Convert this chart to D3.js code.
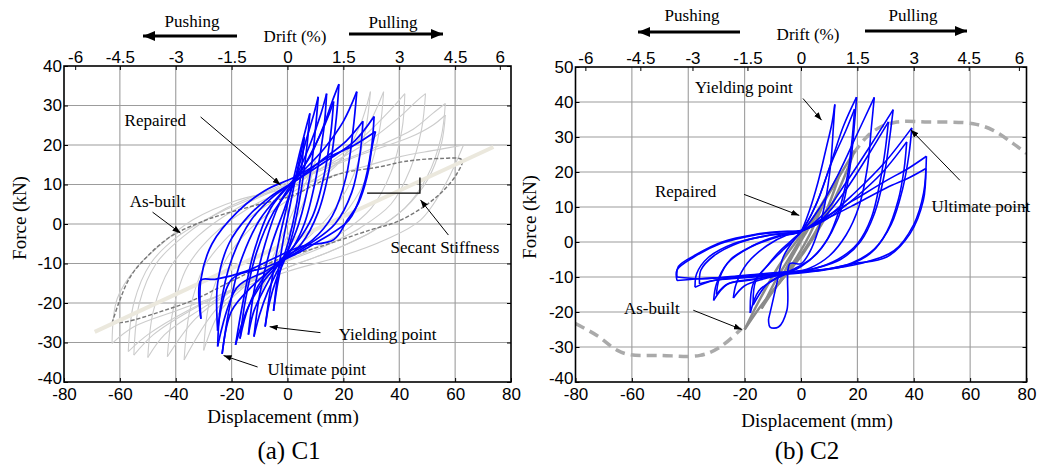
<!DOCTYPE html>
<html><head><meta charset="utf-8">
<script src="https://cdn.jsdelivr.net/npm/d3@7"></script>
<style>body{margin:0;background:#fff}svg{display:block}</style>
</head><body>
<svg id="chart" width="1048" height="466"></svg>
<script>
// ---------------- DATA ----------------
const dispTicks = [-80, -60, -40, -20, 0, 20, 40, 60, 80];
const driftTickLabels = ["-6", "-4.5", "-3", "-1.5", "0", "1.5", "3", "4.5", "6"];
const c1DriftTickDisp = [-76, -60, -40, -20, 0, 20, 40, 60, 76];
const c2DriftTickDisp = [-76.5, -57, -38.5, -19, 0, 20, 40, 59.5, 77.3];
const c1ForceTicks = [-40, -30, -20, -10, 0, 10, 20, 30, 40];
const c2ForceTicks = [-40, -30, -20, -10, 0, 10, 20, 30, 40, 50];

// C1 as-built cycles (light grey): each loop = upper branch (neg peak -> pos peak) + lower branch (pos peak -> neg peak)
const c1AsBuiltLoops = [
  {up: [[-10,-18],[-5,-8],[0,0],[5,8],[10,16]], down: [[10,16],[6,6],[0,-3],[-5,-10],[-10,-18]]},
  {up: [[-30,-32],[-28,-20],[-22,-9],[-13,-1],[-2,5],[9,10],[19,16],[26,25],[29.7,33.5]],
   down: [[29.7,33.5],[28,24],[24,13],[17,4],[8,-3],[-3,-9],[-14,-15],[-24,-22],[-30,-32]]},
  {up: [[-37,-34.4],[-35,-22],[-30,-11],[-21,-3],[-9,4],[4,9],[17,15],[28,24],[34.4,33.5]],
   down: [[34.4,33.5],[33,24],[29,13],[22,4],[12,-3],[0,-8],[-13,-14],[-26,-22],[-37,-34.4]]},
  {up: [[-43,-33.6],[-41,-22],[-36,-11],[-27,-3],[-14,4],[0,9],[14,15],[27,22],[37,29],[42,33]],
   down: [[42,33],[41,24],[37,13],[30,4],[20,-2],[7,-7],[-6,-11],[-20,-17],[-33,-24],[-43,-33.6]]},
  {up: [[-50,-33.8],[-48,-22],[-42,-11],[-32,-3],[-18,4],[-3,9],[12,14],[27,20],[40,27],[46,31],[49.4,33]],
   down: [[49.4,33],[48,24],[44,14],[37,5],[26,-1],[12,-6],[-2,-10],[-18,-16],[-32,-22],[-44,-28],[-50,-33.8]]},
  {up: [[-55,-33.2],[-53,-20],[-47,-10],[-37,-3],[-22,4],[-5,9],[12,14],[30,19],[45,24],[52,28],[56.5,30.5]],
   down: [[56.5,30.5],[55,22],[50,12],[42,4],[30,-2],[15,-7],[0,-11],[-18,-16],[-35,-22],[-48,-28],[-55,-33.2]]},
  {up: [[-57,-32.3],[-55,-20],[-49,-10],[-39,-3],[-24,3],[-7,8],[10,13],[28,18],[44,22],[52,25],[56.5,27.6]],
   down: [[56.5,27.6],[55,20],[50,11],[42,4],[30,-2],[15,-7],[0,-11],[-18,-16],[-36,-22],[-50,-28],[-57,-32.3]]},
  {up: [[-62.8,-30.2],[-61,-19],[-54,-11],[-45,-5],[-34,1],[-18,6],[0,9],[20,13],[40,17],[53,18.7],[63,20]],
   down: [[63,20],[56,9.4],[47.6,1],[35,-4],[20,-8],[0,-12],[-20,-17],[-40,-22],[-55,-26],[-62.8,-30.2]]}
];
// C1 as-built envelope loop (dark grey dashed)
const c1AsBuiltDashed = [[-62.8,-25.1],[-60.4,-20],[-56.2,-13.3],[-49.6,-7.8],[-41.9,-3.2],[-31,0.5],[-22.8,2.5],[-10,5],[1,7],
  [17.8,12.5],[33.3,14.5],[41.6,15.8],[54.8,16.6],[62.5,16.2],[60.7,12.8],[56,8.6],[48.8,4.4],[39.3,0.6],[29.7,-1.5],
  [11.8,-5.7],[-3.7,-9.1],[-20.4,-14.6],[-33.5,-19.2],[-45.5,-22.2],[-57.4,-24.7],[-62.8,-25.1]];
// C1 secant stiffness line
const c1Secant = [[-69,-27.3],[73.7,19.5]];
// C1 repaired cycles (blue)
const c1RepairedLoops = [
  {up: [[-5,-22],[-3.5,-13],[-1.5,-4],[1,5],[3,12],[6,22]], down: [[6,22],[5,14],[3,4],[0.5,-4],[-2,-10],[-3.5,-15],[-5,-22]]},
  {up: [[-8,-26],[-6,-16],[-3,-4],[1,8],[4,17],[6.5,24],[8,28]], down: [[8,28],[7,20],[5,9],[2,-2],[-1,-9],[-4,-14],[-6.5,-20],[-8,-26]]},
  {up: [[-12,-28.5],[-10,-18],[-6,-6],[-1,4],[3,12],[7,22],[9.5,28],[11,32.2]],
   down: [[11,32.2],[10,24],[8,12],[4,0],[0,-7],[-3,-11],[-7,-17],[-10,-23],[-12,-28.5]]},
  {up: [[-14,-28],[-12,-17],[-8,-5],[-3,5],[3,12],[8,20],[12,28],[14,33]],
   down: [[14,33],[13,24],[10,11],[6,0],[1,-7],[-3,-10],[-8,-16],[-12,-22],[-14,-28]]},
  {up: [[-17,-29],[-15,-19],[-11,-7],[-5,3],[2,10],[7,16],[12,23],[15,28],[16.5,31]],
   down: [[16.5,31],[15.5,23],[13,12],[9,2],[3,-5],[-3,-9.5],[-9,-14],[-14,-21],[-17,-29]]},
  {up: [[-18.6,-30.6],[-16,-20],[-12,-7],[-6,4],[2,11],[8,17],[13,25],[16,31],[18.4,35.4]],
   down: [[18.4,35.4],[17.5,27],[15,14],[11,3],[5,-5],[-2,-9.5],[-8,-14],[-14,-21],[-18.6,-30.6]]},
  {up: [[-23.4,-32.9],[-21,-22],[-17,-10],[-10,1],[-2,8],[5,13],[13,19],[20,26],[24.8,33.5]],
   down: [[24.8,33.5],[23.5,24],[21,12],[16,2],[9,-4],[0,-8],[-5,-11],[-13,-16],[-20,-22],[-23.4,-32.9]]},
  {up: [[-25,-31],[-24,-21],[-20,-9],[-13,1],[-5,7],[3,11],[12,16],[21,21],[27,26]],
   down: [[27,26],[26,18],[23,8],[17,0],[8,-5],[-1,-9],[-8,-12],[-18,-16],[-25,-31]]},
  {up: [[-25,-27],[-25,-15],[-21,-5],[-14,2],[-6,7],[3,11],[14,16],[24,21],[31,27.2]],
   down: [[31,27.2],[30,19],[27,9],[22,1],[12,-4],[2,-8],[-8,-11],[-20,-14],[-25,-27]]},
  {up: [[-31,-24],[-31,-14],[-27,-5],[-18,3],[-8,8.5],[3,12],[15,17],[24,20],[31.5,23.4]],
   down: [[31.5,23.4],[30.3,19.6],[28.5,12],[25.4,5.3],[21.4,1],[16.5,-4],[4.7,-5.7],[-3.7,-8.3],[-15,-12],[-26,-14],[-31,-14.2],[-31,-24]]}
];

// C2 as-built envelope (thick grey dashed), negative and positive parts
const c2EnvelopeNeg = [[-80,-23.3],[-72.4,-26.7],[-65.3,-30.9],[-60.6,-32.2],[-50,-32.4],[-35.8,-32.4],[-28.7,-30],[-21,-24.7]];
const c2EnvelopePos = [[18.6,25.3],[23.3,30],[28,32.8],[34,34.3],[45,34.3],[61.1,33.8],[68.2,31.9],[75.3,28.1],[80,25.3]];
// C2 as-built cycles (dark grey solid)
const c2AsBuiltLoops = [
  {up: [[-20,-25],[-15,-17],[-8,-7],[0,2],[7,10],[13,18],[19,26]], down: [[19,26],[14,16],[8,6],[1,-3],[-7,-11],[-14,-18],[-20,-25]]},
  {up: [[-14,-19],[-9,-11],[-3,-3],[3,5],[9,13],[14,20]], down: [[14,20],[9,9],[3,0],[-3,-7],[-9,-13],[-14,-19]]},
  {up: [[-8,-12],[-3,-4],[2,3],[8,11]], down: [[8,11],[3,2],[-2,-5],[-8,-12]]}
];
// C2 repaired cycles (blue)
const c2RepairedLoops = [
  {up: [[-11.5,-22],[-10.5,-18.6],[-8.6,-11.9],[-6.3,-4.3],[-3,0],[0,3],[3,9],[6,17],[9,27],[11,34],[12,39.3]],
   down: [[12,39.3],[11.5,33],[10.5,22],[8.5,11],[6,3],[3,-3],[0,-6.2],[-3.9,-6.2],[-5,-19.5],[-8,-24.3],[-11,-24.3],[-11.5,-22]]},
  {up: [[-18,-20.3],[-17,-12],[-12.2,-7],[-8,-3],[-4,0],[0,3],[5,10],[10,21],[15,33],[19.7,41.4]],
   down: [[19.7,41.4],[19,34],[17.5,22],[15,11],[11,3],[6,-3],[0,-7],[-5,-9],[-10,-11],[-15,-14],[-18,-20.3]]},
  {up: [[-17,-18],[-16,-11],[-11,-6],[-6,-2],[-2,1],[1,4],[6,12],[11,23],[16,32],[19,38]],
   down: [[19,38],[18.2,30],[16.5,19],[13.5,9],[9.5,1],[4,-4.5],[-2,-7.5],[-7,-9.5],[-12,-12],[-17,-18]]},
  {up: [[-24,-16],[-23,-12],[-19,-6],[-12,-1],[-5,2],[0,3],[6,9],[13,19],[20,31],[26,41.3]],
   down: [[26,41.3],[25,33],[23.5,21],[20.5,10],[16,2],[10,-4],[3,-7.5],[-5,-9],[-13,-10.5],[-20,-12.5],[-24,-16]]},
  {up: [[-31,-16.7],[-30,-12],[-26,-6],[-18,-1.5],[-8,1.5],[0,3],[8,8],[16,17],[25,28],[32.7,37.8]],
   down: [[32.7,37.8],[31.5,30],[29.5,19],[26,8],[21,0],[14,-5],[5,-7.5],[-6,-9],[-16,-10.5],[-26,-12],[-31,-16.7]]},
  {up: [[-30,-15],[-29,-10.5],[-25,-5],[-17,-1],[-8,1.8],[0,3],[8,7],[16,15],[24,25],[31,34.3]],
   down: [[31,34.3],[30,27],[28,17],[25,7],[20,-0.5],[13,-5],[4,-7.8],[-7,-9.3],[-17,-10.8],[-26,-12],[-30,-15]]},
  {up: [[-37.6,-12.9],[-37,-9],[-33,-4.5],[-24,-0.5],[-12,1.8],[0,3.2],[9,7],[19,14],[30,23],[39.3,32.6]],
   down: [[39.3,32.6],[38.3,25],[36,15],[32,5],[26,-2],[18,-6],[7,-8],[-6,-9],[-20,-10],[-31,-11],[-37.6,-12.9]]},
  {up: [[-36,-12],[-35.5,-8],[-31,-4],[-22,-0.2],[-11,2],[0,3.2],[9,6.5],[19,12.5],[29,20],[37.5,28.6]],
   down: [[37.5,28.6],[36.6,21],[34.5,12],[30.5,3],[25,-3],[17,-6.5],[6,-8.3],[-7,-9.3],[-21,-10.3],[-31,-11],[-36,-12]]},
  {up: [[-44,-11],[-44,-8],[-38,-4.3],[-28.7,-0.5],[-17,1.9],[-7.4,2.9],[0,3.3],[6.7,6.2],[18.6,11.9],[30.4,17.6],[38,21],[44.5,24.5]],
   down: [[44.5,24.5],[43.5,14],[40,5],[33,-2.5],[24,-5.5],[12,-7.5],[0,-8.3],[-12,-9.2],[-25,-10],[-36,-10.5],[-44,-11]]},
  {up: [[-44,-10],[-43.5,-7],[-37,-3.5],[-28,0],[-16,2.2],[-7,3],[0,3.3],[7,5.8],[18.6,10.5],[30.4,15.5],[38.7,18.5],[44.3,21]],
   down: [[44.3,21],[43.4,11.9],[38.7,2.4],[30.4,-4.3],[18.6,-6.2],[6.7,-8.1],[-5,-8.5],[-20,-9.5],[-35,-10.5],[-44,-10]]}
];

// ---------------- DRAWING ----------------
const svg = d3.select("#chart");
const defs = svg.append("defs");
defs.append("marker").attr("id", "ahThin").attr("viewBox", "0 0 8 6")
  .attr("refX", 8).attr("refY", 3).attr("markerWidth", 8).attr("markerHeight", 6)
  .attr("markerUnits", "userSpaceOnUse").attr("orient", "auto")
  .append("path").attr("d", "M0,0L8,3L0,6Z").attr("fill", "#000");
defs.append("marker").attr("id", "ahThick").attr("viewBox", "0 0 12 10")
  .attr("refX", 12).attr("refY", 5).attr("markerWidth", 12).attr("markerHeight", 10)
  .attr("markerUnits", "userSpaceOnUse").attr("orient", "auto")
  .append("path").attr("d", "M0,0L12,5L0,10Z").attr("fill", "#000");

const SANS = "'Liberation Sans', Arial, sans-serif";
const SERIF = "'Liberation Serif', 'Times New Roman', serif";

function makePanel(cfg) {
  const x = d3.scaleLinear().domain([-80, 80]).range([cfg.left, cfg.right]);
  const y = d3.scaleLinear().domain([cfg.forceTicks[0], cfg.forceTicks[cfg.forceTicks.length - 1]]).range([cfg.bottom, cfg.top]);
  const g = svg.append("g");
  const clipId = "clip" + cfg.id;
  defs.append("clipPath").attr("id", clipId).append("rect")
    .attr("x", cfg.left).attr("y", cfg.top).attr("width", cfg.right - cfg.left).attr("height", cfg.bottom - cfg.top);

  // grid
  g.append("g").selectAll("line").data(dispTicks.slice(1, -1)).join("line")
    .attr("x1", d => x(d)).attr("x2", d => x(d)).attr("y1", cfg.top).attr("y2", cfg.bottom)
    .attr("stroke", "#9c9c9c").attr("stroke-width", 1.1);
  g.append("g").selectAll("line").data(cfg.forceTicks.slice(1, -1)).join("line")
    .attr("y1", d => y(d)).attr("y2", d => y(d)).attr("x1", cfg.left).attr("x2", cfg.right)
    .attr("stroke", "#9c9c9c").attr("stroke-width", 1.1);

  const plot = g.append("g").attr("clip-path", `url(#${clipId})`);
  const curve = d3.line().x(d => x(d[0])).y(d => y(d[1])).curve(d3.curveCatmullRom.alpha(0.5));
  const straight = d3.line().x(d => x(d[0])).y(d => y(d[1]));

  function drawLoops(loops, color, width) {
    const branches = [];
    loops.forEach(l => { branches.push(l.up); branches.push(l.down); });
    plot.append("g").selectAll("path").data(branches).join("path")
      .attr("d", curve).attr("fill", "none").attr("stroke", color).attr("stroke-width", width)
      .attr("stroke-linejoin", "round");
  }
  return {x, y, g, plot, curve, straight, drawLoops, cfg};
}

function drawAxes(p, driftDisp) {
  const {x, y, g, cfg} = p;
  const fmt = d => String(d);
  const bottom = g.append("g").attr("transform", `translate(0,${cfg.bottom})`)
    .call(d3.axisBottom(x).tickValues(dispTicks).tickFormat(fmt).tickSize(-4).tickPadding(6));
  const left = g.append("g").attr("transform", `translate(${cfg.left},0)`)
    .call(d3.axisLeft(y).tickValues(cfg.forceTicks).tickFormat(fmt).tickSize(-4).tickPadding(2));
  const top = g.append("g").attr("transform", `translate(0,${cfg.top})`)
    .call(d3.axisTop(x).tickValues(driftDisp).tickFormat((d, i) => driftTickLabels[i]).tickSize(-4).tickPadding(3));
  const right = g.append("g").attr("transform", `translate(${cfg.right},0)`)
    .call(d3.axisRight(y).tickValues(cfg.forceTicks).tickFormat("").tickSize(-4));
  [bottom, left, top, right].forEach(a => {
    a.select(".domain").remove();
    a.selectAll("line").attr("stroke", "#000").attr("stroke-width", 1);
    a.selectAll("text").attr("font-family", SANS).attr("font-size", 17).attr("fill", "#000");
  });
  // lowest force label sits just above the bottom displacement labels
  left.selectAll(".tick").filter(d => d === cfg.forceTicks[0]).select("text").attr("dy", "0.1em");
  g.append("rect").attr("x", cfg.left).attr("y", cfg.top).attr("width", cfg.right - cfg.left)
    .attr("height", cfg.bottom - cfg.top).attr("fill", "none").attr("stroke", "#000").attr("stroke-width", 1.6);
}

function label(sel, txt, px, py, size, anchor) {
  return sel.append("text").attr("x", px).attr("y", py).text(txt)
    .attr("font-family", SERIF).attr("font-size", size).attr("fill", "#000")
    .attr("text-anchor", anchor || "start");
}
function arrow(sel, x1, y1, x2, y2, thick) {
  sel.append("line").attr("x1", x1).attr("y1", y1).attr("x2", x2).attr("y2", y2)
    .attr("stroke", "#000").attr("stroke-width", thick ? 3 : 1)
    .attr("marker-end", thick ? "url(#ahThick)" : "url(#ahThin)");
}

// ---- Panel (a) C1 ----
const p1 = makePanel({id: 1, left: 64, right: 511, top: 66, bottom: 382, forceTicks: c1ForceTicks});
p1.drawLoops(c1AsBuiltLoops, "#cccccc", 1.1);
p1.plot.append("path").datum(c1AsBuiltDashed).attr("d", p1.curve).attr("fill", "none")
  .attr("stroke", "#777777").attr("stroke-width", 1.4).attr("stroke-dasharray", "4,2");
p1.plot.append("path").datum(c1Secant).attr("d", p1.straight).attr("fill", "none")
  .attr("stroke", "#ebe8dd").attr("stroke-width", 4);
p1.drawLoops(c1RepairedLoops, "#0000ff", 1.7);
drawAxes(p1, c1DriftTickDisp);
{
  const {x, y, g} = p1;
  // secant stiffness marker
  g.append("path").attr("d", `M${x(28.5)},${y(7.8)}H${x(47.4)}V${y(11.8)}`)
    .attr("fill", "none").attr("stroke", "#000").attr("stroke-width", 1.3);
  label(g, "Repaired", x(-58.3), y(24.8), 17);
  arrow(g, x(-31.1), y(27.1), x(-2.5), y(9.9));
  label(g, "As-built", x(-56.5), y(4.3), 17);
  arrow(g, x(-48.3), y(3.0), x(-38.3), y(-2.3));
  label(g, "Secant Stiffness", x(36.9), y(-7.3), 17);
  arrow(g, x(57.6), y(-2.8), x(47.6), y(6.1));
  label(g, "Yielding point", x(18.3), y(-29.4), 17);
  arrow(g, x(11.8), y(-27.5), x(-6.4), y(-26));
  label(g, "Ultimate point", x(-7.2), y(-38.2), 17);
  arrow(g, x(-10.7), y(-36.2), x(-22.9), y(-33.3));
  // top labels
  label(g, "Pushing", 192, 27, 17, "middle");
  arrow(g, 237, 36, 143, 36, true);
  label(g, "Pulling", 393, 28, 17, "middle");
  arrow(g, 349, 34, 443, 34, true);
  label(g, "Drift (%)", 295, 42, 17, "middle");
  label(g, "Displacement (mm)", 283, 423, 19, "middle");
  label(g, "Force (kN)", 0, 0, 19, "middle").attr("transform", "translate(26,218) rotate(-90)");
  label(g, "(a) C1", 289, 459, 25, "middle");
}

// ---- Panel (b) C2 ----
const p2 = makePanel({id: 2, left: 575.5, right: 1026.5, top: 67, bottom: 382, forceTicks: c2ForceTicks});
p2.plot.append("path").datum(c2EnvelopeNeg).attr("d", p2.curve).attr("fill", "none")
  .attr("stroke", "#aaaaaa").attr("stroke-width", 3.5).attr("stroke-dasharray", "10,6");
p2.plot.append("path").datum(c2EnvelopePos).attr("d", p2.curve).attr("fill", "none")
  .attr("stroke", "#aaaaaa").attr("stroke-width", 3.5).attr("stroke-dasharray", "10,6");
p2.drawLoops(c2AsBuiltLoops, "#8a8a8a", 2.5);
p2.drawLoops(c2RepairedLoops, "#0000ff", 1.6);
drawAxes(p2, c2DriftTickDisp);
{
  const {x, y, g} = p2;
  label(g, "Yielding point", x(-37.6), y(42.5), 17);
  arrow(g, x(0.7), y(41), x(7.3), y(34.8));
  label(g, "Repaired", x(-51.8), y(12.9), 17);
  arrow(g, x(-20.2), y(13.6), x(-0.6), y(7.6));
  label(g, "Ultimate point", x(46.3), y(8.5), 17);
  arrow(g, x(56.4), y(17.6), x(38.9), y(32.1));
  label(g, "As-built", x(-62.8), y(-20.5), 17);
  arrow(g, x(-38.2), y(-19.5), x(-21), y(-25));
  label(g, "Pushing", 692, 21, 17, "middle");
  arrow(g, 740, 32, 638, 32, true);
  label(g, "Pulling", 913, 21, 17, "middle");
  arrow(g, 865, 31, 967, 31, true);
  label(g, "Drift (%)", 808, 40, 17, "middle");
  label(g, "Displacement (mm)", 817, 427, 19, "middle");
  label(g, "Force (kN)", 0, 0, 19, "middle").attr("transform", "translate(536,217) rotate(-90)");
  label(g, "(b) C2", 807, 459, 25, "middle");
}
</script>
</body></html>
